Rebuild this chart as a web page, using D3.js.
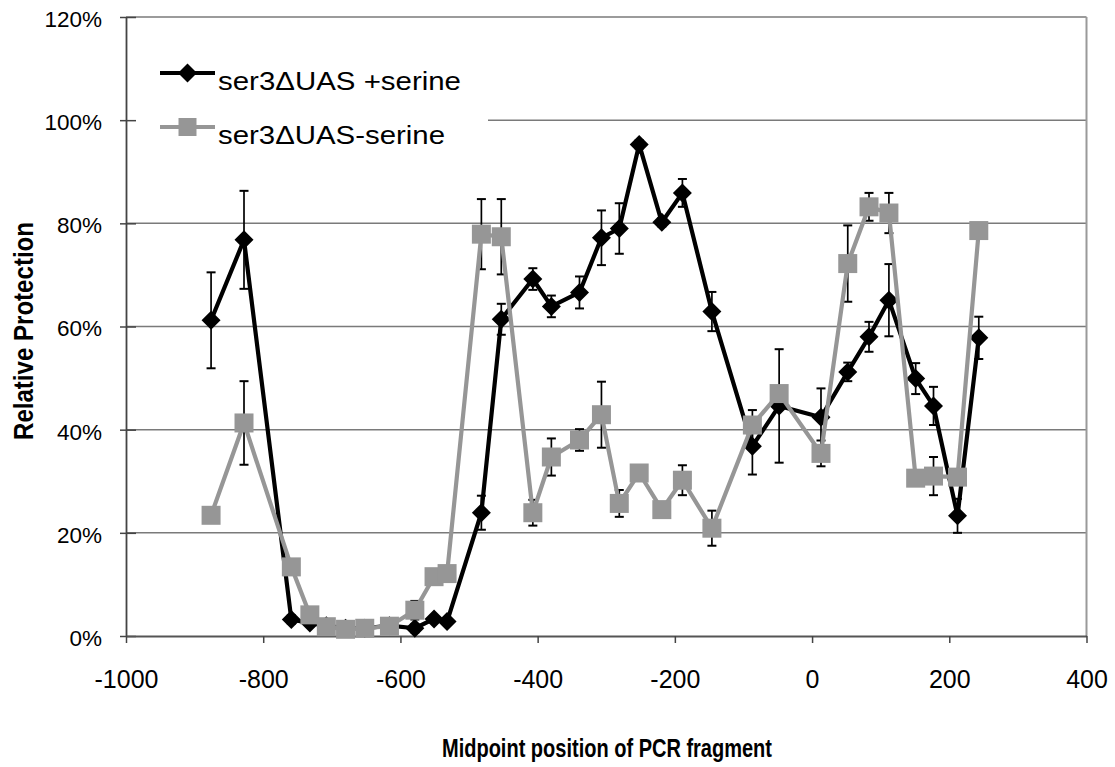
<!DOCTYPE html>
<html>
<head>
<meta charset="utf-8">
<script src="https://cdn.jsdelivr.net/npm/d3@7"></script>
<style>
  html, body { margin: 0; padding: 0; background: #fff; }
  svg { display: block; }
  text { font-family: "Liberation Sans", Arial, Helvetica, sans-serif; fill: #000; }
</style>
</head>
<body>
<svg id="chart" width="1115" height="767"></svg>
<script>
// Midpoint positions of the PCR fragments (bp relative to the start site)
const positions = [-876, -828, -759, -732, -708, -680, -652, -616, -579, -551, -532,
  -482, -453, -407, -380, -339, -307, -281, -252, -219, -189, -146, -87, -48,
  13, 52, 83, 112, 151, 177, 212, 243];

// Relative protection (%) with serine
const plusSerine = [61.2, 76.8, 3.2, 2.5, 2.0, 1.5, 1.5, 2.0, 1.5, 3.3, 2.8,
  23.9, 61.4, 69.2, 63.9, 66.6, 77.2, 79.0, 95.3, 80.2, 85.9, 62.9, 36.8, 44.6,
  42.4, 51.2, 58.0, 65.1, 49.9, 44.6, 23.3, 57.8];
const plusSerineErr = [9.3, 9.5, 0.8, 0.6, 0.5, 0.5, 0.5, 0.5, 0.8, 0.6, 0.6,
  3.3, 3.0, 2.1, 2.1, 3.1, 5.3, 4.9, 0.8, 0.8, 2.7, 3.8, 5.5, 11.0,
  5.6, 1.8, 2.9, 7.0, 3.0, 3.7, 3.3, 4.1];

// Relative protection (%) without serine
const minusSerine = [23.4, 41.3, 13.4, 4.1, 1.8, 1.3, 1.5, 1.9, 5.0, 11.5, 12.1,
  77.9, 77.4, 23.9, 34.7, 38.0, 42.9, 25.7, 31.6, 24.5, 30.2, 20.9, 40.9, 47.0,
  35.4, 72.2, 83.2, 82.0, 30.6, 31.0, 30.8, 78.6];
const minusSerineErr = [0.6, 8.1, 0.8, 0.6, 0.4, 0.4, 0.4, 0.4, 1.8, 0.6, 0.6,
  6.8, 7.3, 2.5, 3.6, 2.1, 6.4, 2.6, 0.6, 0.6, 2.9, 3.4, 2.9, 1.0,
  2.5, 7.4, 2.7, 3.9, 0.6, 3.7, 0.6, 0.6];

const xTicks = [-1000, -800, -600, -400, -200, 0, 200, 400];
const yTicks = [0, 20, 40, 60, 80, 100, 120];
const seriesNames = ["ser3\u0394UAS +serine", "ser3\u0394UAS-serine"];

const svg = d3.select("#chart");
const plotLeft = 126, plotRight = 1086.5, plotTop = 17, plotBottom = 636;

const x = d3.scaleLinear().domain([-1000, 400]).range([plotLeft, plotRight]);
const y = d3.scaleLinear().domain([0, 120]).range([plotBottom, plotTop]);

const series = [
  { name: seriesNames[0], values: plusSerine, err: plusSerineErr, color: "#000000", marker: "diamond" },
  { name: seriesNames[1], values: minusSerine, err: minusSerineErr, color: "#969696", marker: "square" }
].map(s => ({ ...s, points: positions.map((p, i) => ({ x: p, v: s.values[i], e: s.err[i] })) }));

// Horizontal gridlines
svg.append("g")
  .selectAll("line")
  .data(yTicks.filter(t => t > 0))
  .join("line")
  .attr("x1", plotLeft).attr("x2", plotRight)
  .attr("y1", d => y(d)).attr("y2", d => y(d))
  .attr("stroke", "#7a7a7a").attr("stroke-width", 1.5);

// Right frame
svg.append("line")
  .attr("x1", plotRight).attr("x2", plotRight).attr("y1", plotTop).attr("y2", plotBottom)
  .attr("stroke", "#9a9a9a").attr("stroke-width", 2);

// Legend background hides the grid behind it
svg.append("rect")
  .attr("x", plotLeft + 1).attr("y", 40).attr("width", 361).attr("height", 120)
  .attr("fill", "#fff");

// Y axis
const yAxis = d3.axisLeft(y).tickValues(yTicks).tickFormat(d => d + "%")
  .tickSizeInner(6).tickSizeOuter(0).tickPadding(18);
const gy = svg.append("g").attr("transform", `translate(${plotLeft},0)`).call(yAxis);
gy.select(".domain").attr("stroke", "#444").attr("stroke-width", 1.8);
gy.selectAll(".tick line").attr("stroke", "#444").attr("stroke-width", 1.5)
  .attr("x1", 10);
gy.selectAll(".tick text")
  .attr("font-size", 22.5)
  .attr("dy", "0.42em")
  .style("font-family", "'Liberation Sans', Arial, sans-serif");

// X axis
const xAxis = d3.axisBottom(x).tickValues(xTicks).tickFormat(d3.format("d"))
  .tickSizeInner(7).tickSizeOuter(0).tickPadding(27);
const gx = svg.append("g").attr("transform", `translate(0,${plotBottom})`).call(xAxis);
gx.select(".domain").attr("stroke", "#555").attr("stroke-width", 2.2);
gx.selectAll(".tick line").attr("stroke", "#444").attr("stroke-width", 1.5);
gx.selectAll(".tick text")
  .attr("font-size", 25)
  .text(d => (d < 0 ? "-" : "") + Math.abs(d))
  .style("font-family", "'Liberation Sans', Arial, sans-serif");

// Axis titles
svg.append("text")
  .attr("x", 607).attr("y", 757)
  .attr("text-anchor", "middle")
  .attr("font-size", 26).attr("font-weight", "bold")
  .attr("textLength", 330).attr("lengthAdjust", "spacingAndGlyphs")
  .text("Midpoint position of PCR fragment");

svg.append("text")
  .attr("transform", "translate(33,331) rotate(-90)")
  .attr("text-anchor", "middle")
  .attr("font-size", 27).attr("font-weight", "bold")
  .attr("textLength", 218).attr("lengthAdjust", "spacingAndGlyphs")
  .text("Relative Protection");

// Error bars (drawn beneath the lines and markers)
const capHalf = 4.5;
const errG = svg.append("g");
series.forEach(s => {
  const g = errG.append("g");
  s.points.forEach(p => {
    const cx = x(p.x), y1 = y(p.v + p.e), y2 = y(p.v - p.e);
    g.append("line").attr("x1", cx).attr("x2", cx).attr("y1", y1).attr("y2", y2)
      .attr("stroke", "#000").attr("stroke-width", 1.7);
    [y1, y2].forEach(cy => g.append("line")
      .attr("x1", cx - capHalf).attr("x2", cx + capHalf).attr("y1", cy).attr("y2", cy)
      .attr("stroke", "#000").attr("stroke-width", 2));
  });
});

const diamond = r => `M0,${-r}L${r},0L0,${r}L${-r},0Z`;
const square = r => `M${-r},${-r}H${r}V${r}H${-r}Z`;

const line = d3.line().x(d => x(d.x)).y(d => y(d.v));

series.forEach(s => {
  const g = svg.append("g");
  g.append("path").datum(s.points)
    .attr("d", line)
    .attr("fill", "none")
    .attr("stroke", s.color)
    .attr("stroke-width", 4.2)
    .attr("stroke-linejoin", "round");
  g.selectAll("path.mark").data(s.points).join("path")
    .attr("class", "mark")
    .attr("transform", d => `translate(${x(d.x)},${y(d.v)})`)
    .attr("d", s.marker === "diamond" ? diamond(9.5) : square(9.5))
    .attr("fill", s.color);
});

// Legend
const legend = svg.append("g");
series.forEach((s, i) => {
  const ly = 73 + i * 54;
  legend.append("line")
    .attr("x1", 160).attr("x2", 215).attr("y1", ly).attr("y2", ly)
    .attr("stroke", s.color).attr("stroke-width", 4.2);
  legend.append("path")
    .attr("transform", `translate(187.5,${ly})`)
    .attr("d", s.marker === "diamond" ? diamond(9.5) : square(9))
    .attr("fill", s.color);
  legend.append("text")
    .attr("x", 218).attr("y", ly + 17)
    .attr("font-size", 26.5)
    .attr("textLength", i === 0 ? 243 : 227).attr("lengthAdjust", "spacingAndGlyphs")
    .text(s.name);
});
</script>
</body>
</html>
